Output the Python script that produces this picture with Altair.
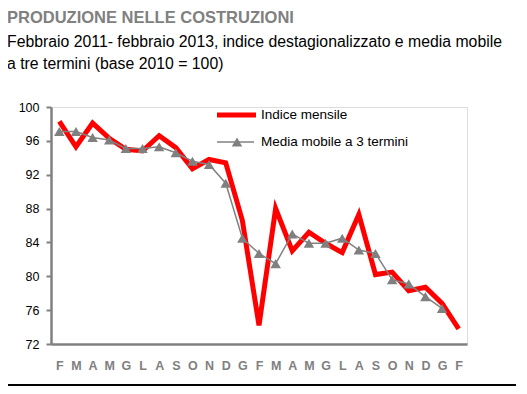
import altair as alt
import pandas as pd

# ---- data ----
month_labels = ["F", "M", "A", "M", "G", "L", "A", "S", "O", "N", "D",
                "G", "F", "M", "A", "M", "G", "L", "A", "S", "O", "N", "D",
                "G", "F"]
years = [2011] * 11 + [2012] * 12 + [2013] * 2
indice_mensile = [98.3, 95.3, 98.1, 96.3, 95.0, 94.8, 96.6, 95.2, 92.7, 93.8, 93.4,
                  86.6, 74.2, 88.0, 83.0, 85.2, 83.9, 82.8, 87.3, 80.2, 80.5, 78.3,
                  78.7, 76.8, 73.8]
media_mobile = [97.1, 97.1, 96.4, 96.1, 95.1, 95.1, 95.3, 94.6, 93.6, 93.2, 91.0,
                84.5, 82.7, 81.5, 85.0, 83.9, 83.9, 84.5, 83.1, 82.7, 79.6, 79.1,
                77.6, 76.2, None]
y_ticks = [72, 76, 80, 84, 88, 92, 96, 100]

title_text = "PRODUZIONE NELLE COSTRUZIONI"
subtitle_lines = ["Febbraio 2011- febbraio 2013, indice destagionalizzato e media mobile",
                  "a tre termini (base 2010 = 100)"]
legend_labels = ["Indice mensile", "Media mobile a 3 termini"]

keys = [f"{m} {y} {i}" for i, (m, y) in enumerate(zip(month_labels, years))]
df = pd.DataFrame({"mese": keys, "indice": indice_mensile, "media": media_mobile})

W, H = 416, 237
RED = "#ff0000"
GRAY = "#808080"
FONT = "Liberation Sans"

x_enc = alt.X("mese:O", sort=keys, title=None,
              axis=alt.Axis(labelExpr="split(datum.value, ' ')[0]", labelAngle=0,
                            ticks=False, labelPadding=15, labelFontSize=12.5,
                            labelFontWeight="bold", labelColor=GRAY, labelFont=FONT,
                            labelOverlap=False,
                            domainColor=GRAY, domainWidth=2.5),
              scale=alt.Scale(type="point", padding=0.5))
y_scale = alt.Scale(domain=[72, 100], nice=False, zero=False)
y_axis = alt.Axis(values=y_ticks, grid=False, tickSize=5, tickColor=GRAY, tickWidth=2,
                  labelPadding=7, labelFontSize=12.5, labelColor="#000000", labelFont=FONT,
                  labelOverlap=False, labelBound=False,
                  domainColor=GRAY, domainWidth=2.5)

base = alt.Chart(df)
red_line = base.mark_line(color=RED, strokeWidth=5).encode(
    x=x_enc, y=alt.Y("indice:Q", scale=y_scale, axis=y_axis, title=None))
gray_line = base.mark_line(color=GRAY, strokeWidth=1.5,
                           point=alt.OverlayMarkDef(shape="triangle-up", size=110,
                                                    color=GRAY, filled=True, opacity=1)
                           ).encode(x=x_enc, y=alt.Y("media:Q", scale=y_scale,
                                                      axis=y_axis, title=None))

one = alt.Chart(pd.DataFrame({"k": [0]}))

# legend
leg_red = one.mark_rule(color=RED, strokeWidth=5).encode(
    x=alt.value(166), x2=alt.value(205), y=alt.value(8))
leg_gray = one.mark_rule(color=GRAY, strokeWidth=1.5).encode(
    x=alt.value(166), x2=alt.value(203), y=alt.value(35))
leg_tri = one.mark_point(shape="triangle-up", size=110, color=GRAY, filled=True,
                         opacity=1).encode(x=alt.value(186), y=alt.value(35))
leg_t1 = one.mark_text(text=legend_labels[0], align="left", baseline="middle",
                       font=FONT, fontSize=13.5, color="#000000").encode(
    x=alt.value(210), y=alt.value(8))
leg_t2 = one.mark_text(text=legend_labels[1], align="left", baseline="middle",
                       font=FONT, fontSize=13.5, color="#000000").encode(
    x=alt.value(210), y=alt.value(35))

# titles
t_main = one.mark_text(text=title_text, align="left", baseline="alphabetic",
                       font=FONT, fontSize=16.5, fontWeight="bold", color=GRAY).encode(
    x=alt.value(-44), y=alt.value(-84))
t_sub1 = one.mark_text(text=subtitle_lines[0], align="left", baseline="alphabetic",
                       font=FONT, fontSize=15.8, color="#000000").encode(
    x=alt.value(-44), y=alt.value(-60))
t_sub2 = one.mark_text(text=subtitle_lines[1], align="left", baseline="alphabetic",
                       font=FONT, fontSize=15.8, color="#000000").encode(
    x=alt.value(-44), y=alt.value(-38))

bottom_rule = one.mark_rule(color="#000000", strokeWidth=2).encode(
    x=alt.value(-45), x2=alt.value(465), y=alt.value(278))

chart = alt.layer(red_line, gray_line, leg_red, leg_gray, leg_tri, leg_t1, leg_t2,
                  t_main, t_sub1, t_sub2, bottom_rule).properties(
    width=W, height=H,
    autosize=alt.AutoSizeParams(type="none"),
    padding={"left": 43, "top": 99, "right": 52, "bottom": 44},
).configure_view(stroke=None).configure(background="#ffffff")

chart.save("out.html", embed_options={"renderer": "svg", "actions": False})
